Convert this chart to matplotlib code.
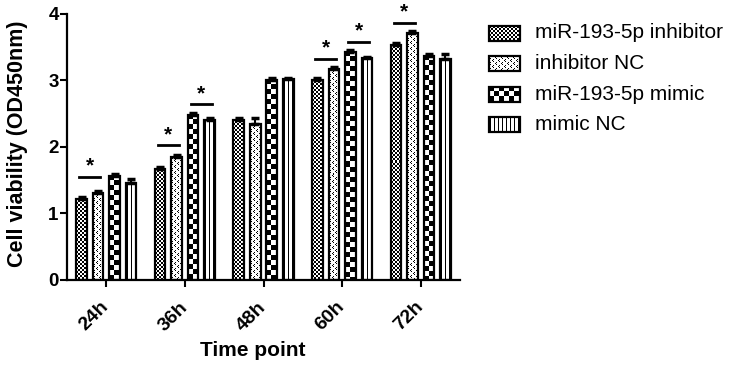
import numpy as np
import matplotlib
matplotlib.use("Agg")
import matplotlib.pyplot as plt
import matplotlib.transforms as mtransforms
from matplotlib.patches import Rectangle

plt.rcParams['font.family'] = ['Liberation Sans', 'DejaVu Sans']

# === データ ===
time_points = ['24h', '36h', '48h', '60h', '72h']
groups = ['miR-193-5p inhibitor', 'inhibitor NC', 'miR-193-5p mimic', 'mimic NC']
inhibitor = [1.21, 1.67, 2.41, 3.01, 3.53]
inhibitor_nc = [1.31, 1.84, 2.35, 3.17, 3.72]
mimic = [1.56, 2.48, 3.00, 3.42, 3.36]
mimic_nc = [1.46, 2.40, 3.02, 3.33, 3.32]
inhibitor_err = [0.03, 0.03, 0.02, 0.02, 0.03]
inhibitor_nc_err = [0.03, 0.04, 0.08, 0.03, 0.03]
mimic_err = [0.03, 0.03, 0.03, 0.04, 0.03]
mimic_nc_err = [0.05, 0.03, 0.02, 0.02, 0.08]
# 有意差: (時間点, 棒a, 棒b, 線の高さ)
sig_pairs = [(0, 0, 1, 1.55), (1, 0, 1, 2.02), (1, 2, 3, 2.64),
             (3, 0, 1, 3.32), (3, 2, 3, 3.58), (4, 0, 1, 3.87)]

values = [inhibitor, inhibitor_nc, mimic, mimic_nc]
errors = [inhibitor_err, inhibitor_nc_err, mimic_err, mimic_nc_err]
patterns = ['fine', 'dots', 'checker', 'vline']


def texture(kind, ny, nx):
    i, j = np.mgrid[0:ny, 0:nx]
    if kind == 'fine':
        a = (i // 2 + j // 2) % 2
    elif kind == 'checker':
        a = (i // 5 + j // 5) % 2
    elif kind == 'vline':
        a = (j % 4 != 1)
    else:
        tile = np.ones((6, 6))
        for r, c in [(0, 1), (1, 0), (2, 1), (3, 4), (4, 3), (5, 4)]:
            tile[r, c] = 0
        a = tile[i % 6, j % 6]
    return a.astype(float)


def fill_pattern(axis, rect, kind, px_x, px_y, z):
    x0, y0 = rect.get_x(), rect.get_y()
    w, h = rect.get_width(), rect.get_height()
    nx = max(int(round(w / px_x)), 1)
    ny = max(int(round(h / px_y)), 1)
    im = axis.imshow(texture(kind, ny, nx), cmap='gray', vmin=0, vmax=1,
                     interpolation='nearest', aspect='auto',
                     extent=(x0, x0 + w, y0, y0 + h), origin='upper', zorder=z)
    im.set_clip_path(rect)


W, H = 733, 365
fig = plt.figure(figsize=(W / 100, H / 100), dpi=100)
ax = fig.add_axes([67 / W, 1 - 279.5 / H, 393 / W, 265.5 / H])

x = np.arange(len(time_points))
pitch = 0.21
bw = 0.135
xlim = (-0.5, len(time_points) - 0.5)
ylim = (0, 4)
px_x = (xlim[1] - xlim[0]) / 393
px_y = (ylim[1] - ylim[0]) / 265.5

for k in range(4):
    pos = x + (k - 1.5) * pitch
    bars = ax.bar(pos, values[k], bw, color='white', edgecolor='none', zorder=2)
    for b in bars:
        fill_pattern(ax, b, patterns[k], px_x, px_y, 2.5)
    ax.bar(pos, values[k], bw, fill=False, edgecolor='black', linewidth=1.6, zorder=3)
    ax.errorbar(pos, values[k], yerr=[np.zeros(len(x)), errors[k]], fmt='none',
                ecolor='black', elinewidth=1.5, capsize=3, capthick=2.5, zorder=4)

for g, a, b, yl in sig_pairs:
    xa = g + (a - 1.5) * pitch
    xb = g + (b - 1.5) * pitch
    mid = (xa + xb) / 2
    ax.plot([mid - 0.135, mid + 0.135], [yl, yl], color='black', lw=2, zorder=4)
    ax.text(mid, yl + 0.02, '*', ha='center', va='bottom', fontsize=15,
            fontweight='bold', zorder=4)

ax.set_xlim(xlim)
ax.set_ylim(ylim)
ax.set_yticks(range(5))
ax.set_xticks(x)
ax.set_xticklabels(time_points, rotation=45, ha='right', va='center',
                   rotation_mode='anchor', fontweight='bold', fontsize=14)
shift = mtransforms.ScaledTranslation(4 / 100, -2 / 100, fig.dpi_scale_trans)
for lab in ax.get_xticklabels():
    lab.set_transform(lab.get_transform() + shift)
for lab in ax.get_yticklabels():
    lab.set_fontweight('bold')
    lab.set_fontsize(13.5)
ax.tick_params(axis='both', width=1.5, length=5, direction='out')
ax.tick_params(axis='x', pad=13)
ax.tick_params(axis='y', pad=1)
for s in ['top', 'right']:
    ax.spines[s].set_visible(False)
for s in ['left', 'bottom']:
    ax.spines[s].set_linewidth(1.6)

ax.set_xlabel('Time point', fontsize=15, fontweight='bold')
ax.set_ylabel('Cell viability (OD450nm)', fontsize=15.5, fontweight='bold')
ax.xaxis.set_label_coords((253 - 67) / 393, -(341 - 279.5) / 265.5)
ax.yaxis.set_label_coords(-(67 - 28) / 393, (279.5 - 143.5) / 265.5)

# === 凡例 (ピクセル座標) ===
lax = fig.add_axes([0, 0, 1, 1])
lax.axis('off')
for k, name in enumerate(groups):
    yc = 33 + k * 30.5
    sw = Rectangle((489, yc - 7.5), 31, 15, facecolor='white', edgecolor='none')
    lax.add_patch(sw)
    fill_pattern(lax, sw, patterns[k], 1, 1, 2)
    lax.add_patch(Rectangle((489, yc - 7.5), 31, 15, fill=False,
                            edgecolor='black', linewidth=1.6, zorder=3))
    lax.text(535, yc, name, fontsize=15, va='center', ha='left')
lax.set_xlim(0, W)
lax.set_ylim(H, 0)

fig.savefig('out.png', dpi=100)
